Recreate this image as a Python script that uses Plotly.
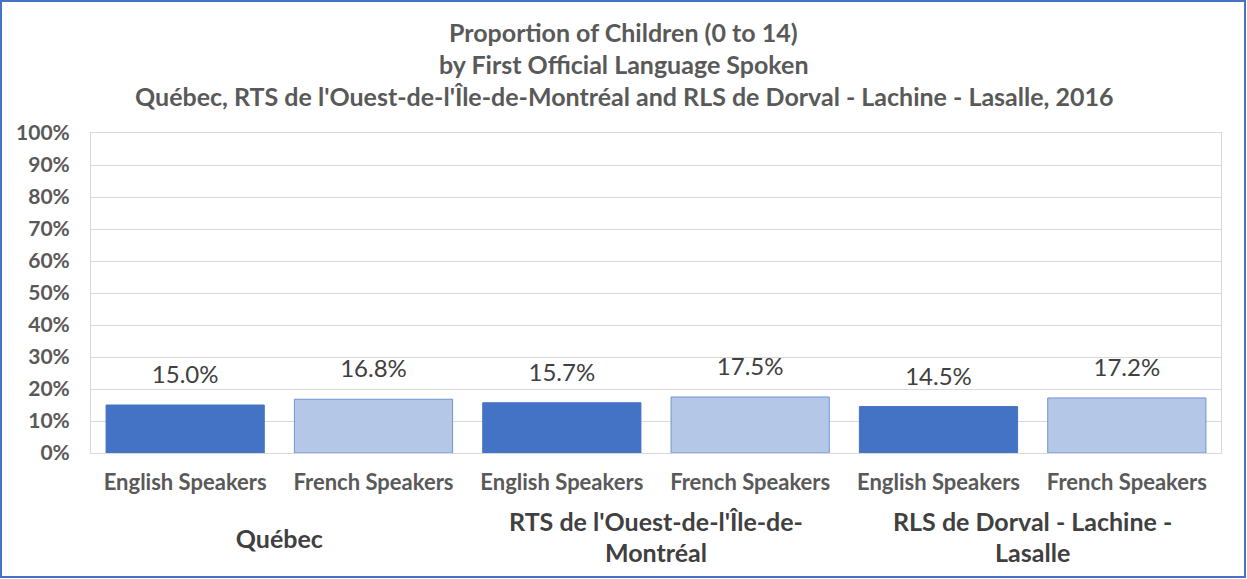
import plotly.graph_objects as go

regions = ["Québec", "RTS de l'Ouest-de-l'Île-de-<br>Montréal", "RLS de Dorval - Lachine -<br>Lasalle"]
languages = ["English Speakers", "French Speakers"]
english_values = [0.150, 0.157, 0.145]
french_values = [0.168, 0.175, 0.172]
y_ticks = [0, 0.1, 0.2, 0.3, 0.4, 0.5, 0.6, 0.7, 0.8, 0.9, 1.0]

title_lines = [
    "Proportion of Children (0 to 14)",
    "by First Official Language Spoken",
    "Québec, RTS de l'Ouest-de-l'Île-de-Montréal and RLS de Dorval - Lachine - Lasalle, 2016",
]

FONT = "Lato"
outer, inner, vals, colors, lines = [], [], [], [], []
for i, r in enumerate(regions):
    shift = "baseline-shift:-36px;" if "<br>" not in r else "baseline-shift:-19px;"
    for lang, v, c, lc in [(languages[0], english_values[i], "#4472C4", "#4472C4"),
                           (languages[1], french_values[i], "#B4C7E7", "#6F93D6")]:
        outer.append(f"<span style='color:#404040;font-size:25px;{shift}'><b>{r}</b></span>")
        inner.append(f"<span style='font-size:22px'><b>{lang}</b></span>")
        vals.append(v)
        colors.append(c)
        lines.append(lc)

fig = go.Figure()
fig.add_trace(go.Bar(
    x=[outer, inner],
    y=vals,
    marker=dict(color=colors, line=dict(color=lines, width=1)),
    hoverinfo="skip",
))
fig.add_trace(go.Scatter(
    x=[outer, inner],
    y=vals,
    mode="markers+text",
    marker=dict(size=24, opacity=0),
    text=[f"{v*100:.1f}%" for v in vals],
    textposition="top center",
    textfont=dict(family=FONT, size=24, color="#404040"),
    cliponaxis=False,
    hoverinfo="skip",
))

W, H = 1247, 579
ml, mr, mt, mb = 91, 26, 133, 126
pw, ph = W - ml - mr, H - mt - mb

fig.update_layout(
    width=W, height=H,
    margin=dict(l=ml, r=mr, t=mt, b=mb, autoexpand=False),
    paper_bgcolor="white", plot_bgcolor="white",
    bargap=0.16,
    showlegend=False,
    font=dict(family=FONT),
)
fig.update_yaxes(
    range=[0, 1.0], tickvals=y_ticks, tickformat=".0%",
    tickfont=dict(family=FONT, size=21, color="#595959", weight="bold"),
    showgrid=True, gridcolor="#D9D9D9", gridwidth=1,
    showline=True, linecolor="#D9D9D9", mirror=True,
    zeroline=False, ticks="", ticklabelstandoff=16, automargin=False,
)
fig.update_xaxes(
    type="multicategory",
    tickfont=dict(family=FONT, size=24, color="#595959"),
    showline=True, linecolor="#D9D9D9", mirror=True,
    showdividers=False, ticks="", automargin=False, ticklabelstandoff=7,
)

for k, t in enumerate(title_lines):
    fig.add_annotation(
        xref="paper", yref="paper", x=(W / 2 - ml) / pw, xanchor="center",
        y=1 + (mt - (32 + 32 * k)) / ph, yanchor="middle",
        text=f"<b>{t}</b>", showarrow=False,
        font=dict(family=FONT, size=25, color="#595959"),
    )

fig.add_shape(type="rect", xref="paper", yref="paper",
              x0=(1 - ml) / pw, x1=(W - 2 - ml) / pw,
              y0=(mt + ph - (H - 2)) / ph, y1=(mt + ph - 1) / ph,
              line=dict(color="#4472C4", width=2))

fig.write_html("out.html", config={"displayModeBar": False},
               post_script="document.body.style.margin='0';")
